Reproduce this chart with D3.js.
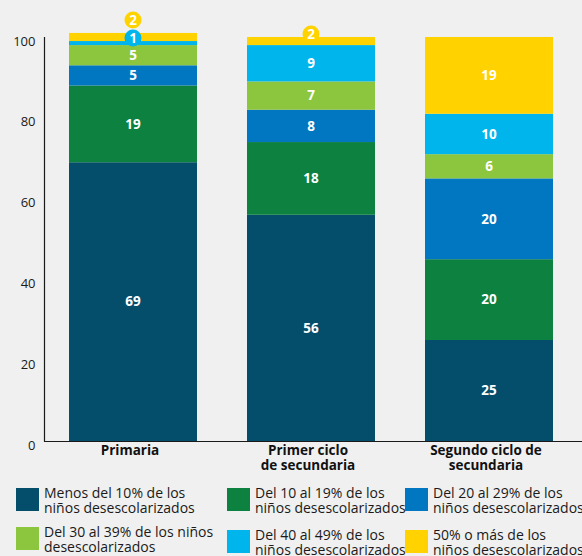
<!DOCTYPE html>
<html>
<head>
<meta charset="utf-8">
<script src="https://cdn.jsdelivr.net/npm/d3@7"></script>
<style>
  html, body { margin: 0; padding: 0; background: #f0f0f0; }
  svg { display: block; font-family: "Open Sans", "Noto Sans", sans-serif; }
</style>
</head>
<body>
<svg id="chart" width="582" height="556"></svg>
<script>
// Education levels (x categories), each label split over lines
const categories = ["Primaria", "Primer ciclo\nde secundaria", "Segundo ciclo de\nsecundaria"];

// Share of out-of-school children bands (stack order, bottom to top)
const seriesKeys = ["menos10", "del10", "del20", "del30", "del40", "mas50"];
const seriesLabels = [
  "Menos del 10% de los\nniños desescolarizados",
  "Del 10 al 19% de los\nniños desescolarizados",
  "Del 20 al 29% de los\nniños desescolarizados",
  "Del 30 al 39% de los niños\ndesescolarizados",
  "Del 40 al 49% de los\nniños desescolarizados",
  "50% o más de los\nniños desescolarizados"
];
const seriesColors = ["#044e6c", "#0d8140", "#0077c0", "#8cc63f", "#00b4ec", "#ffd200"];

// Values per band, one per category
const menos10 = [69, 56, 25];
const del10   = [19, 18, 20];
const del20   = [5, 8, 20];
const del30   = [5, 7, 6];
const del40   = [1, 9, 10];
const mas50   = [2, 2, 19];

const yTicks = [0, 20, 40, 60, 80, 100];

const seriesValues = [menos10, del10, del20, del30, del40, mas50];
const table = categories.map((c, i) => {
  const row = { cat: c };
  seriesKeys.forEach((k, j) => row[k] = seriesValues[j][i]);
  return row;
});

const svg = d3.select("#chart");

const x = d3.scaleBand()
  .domain(categories)
  .range([44, 578])
  .paddingInner(50 / 178)
  .paddingOuter(25 / 178);

const y = d3.scaleLinear().domain([0, 100]).range([441, 37]);

const stacked = d3.stack().keys(seriesKeys)(table);

// Bars
const layers = svg.append("g").selectAll("g")
  .data(stacked)
  .join("g")
  .attr("fill", (d, i) => seriesColors[i]);

layers.selectAll("rect")
  .data(d => d.map(p => ({ p, key: d.key })))
  .join("rect")
  .attr("x", d => x(d.p.data.cat))
  .attr("width", x.bandwidth())
  .attr("y", d => y(d.p[1]))
  .attr("height", d => y(d.p[0]) - y(d.p[1]));

// Axes (lines only, no tick marks)
const yAxis = d3.axisLeft(y).tickValues(yTicks).tickSize(0).tickPadding(9);
const gy = svg.append("g").attr("transform", "translate(44.5,0)").call(yAxis);
gy.select(".domain").remove();
gy.selectAll("text")
  .attr("dy", "0.62em")
  .attr("font-family", "'Open Sans', sans-serif")
  .attr("font-size", 13)
  .attr("fill", "#1a1a1a");

svg.append("line")
  .attr("x1", 44.5).attr("x2", 44.5)
  .attr("y1", y(100)).attr("y2", y(0) + 0.5)
  .attr("stroke", "#1a1a1a").attr("stroke-width", 1.2);
svg.append("line")
  .attr("x1", 44).attr("x2", 582)
  .attr("y1", y(0) + 0.5).attr("y2", y(0) + 0.5)
  .attr("stroke", "#1a1a1a").attr("stroke-width", 1.2);

// Category labels
const catG = svg.append("g")
  .attr("font-weight", "bold")
  .attr("font-size", 13.5)
  .attr("text-anchor", "middle")
  .attr("fill", "#111");
categories.forEach(c => {
  const lines = c.split("\n");
  const t = catG.append("text")
    .attr("x", x(c) + x.bandwidth() / 2 - 3)
    .attr("y", 455);
  lines.forEach((l, i) => t.append("tspan")
    .attr("x", x(c) + x.bandwidth() / 2 - 3)
    .attr("dy", i === 0 ? 0 : 14.5)
    .text(l));
});

// Value labels: inside the segment, or in a round callout for tiny segments
const labelG = svg.append("g")
  .attr("font-weight", "bold")
  .attr("font-size", 13.5)
  .attr("text-anchor", "middle")
  .attr("fill", "#fff");

categories.forEach((c, ci) => {
  const cx = x(c) + x.bandwidth() / 2;
  let calloutY = null;
  stacked.forEach((layer, li) => {
    const p = layer[ci];
    const v = p[1] - p[0];
    if (v >= 3) {
      labelG.append("text")
        .attr("x", cx)
        .attr("y", (y(p[0]) + y(p[1])) / 2)
        .attr("dy", "0.36em")
        .text(v);
    } else {
      calloutY = calloutY === null ? y(p[1]) - 3 : calloutY - 18;
      labelG.append("circle")
        .attr("cx", cx).attr("cy", calloutY).attr("r", 8.5)
        .attr("fill", seriesColors[li]);
      labelG.append("text")
        .attr("x", cx).attr("y", calloutY)
        .attr("dy", "0.36em")
        .text(v);
    }
  });
});

// Legend (3 columns x 2 rows)
const legendCols = [16, 227, 405];
const legendRows = [[488, 488, 488], [527, 530, 530]];
const legendG = svg.append("g").attr("font-size", 14).attr("fill", "#1a1a1a");
seriesLabels.forEach((lab, i) => {
  const col = i % 3, row = Math.floor(i / 3);
  const lx = legendCols[col], ly = legendRows[row][col];
  legendG.append("rect")
    .attr("x", lx).attr("y", ly)
    .attr("width", 23).attr("height", 23)
    .attr("fill", seriesColors[i]);
  const t = legendG.append("text").attr("y", ly + 10);
  lab.split("\n").forEach((l, k) => t.append("tspan")
    .attr("x", lx + 28)
    .attr("dy", k === 0 ? 0 : 14.5)
    .text(l));
});
</script>
</body>
</html>
